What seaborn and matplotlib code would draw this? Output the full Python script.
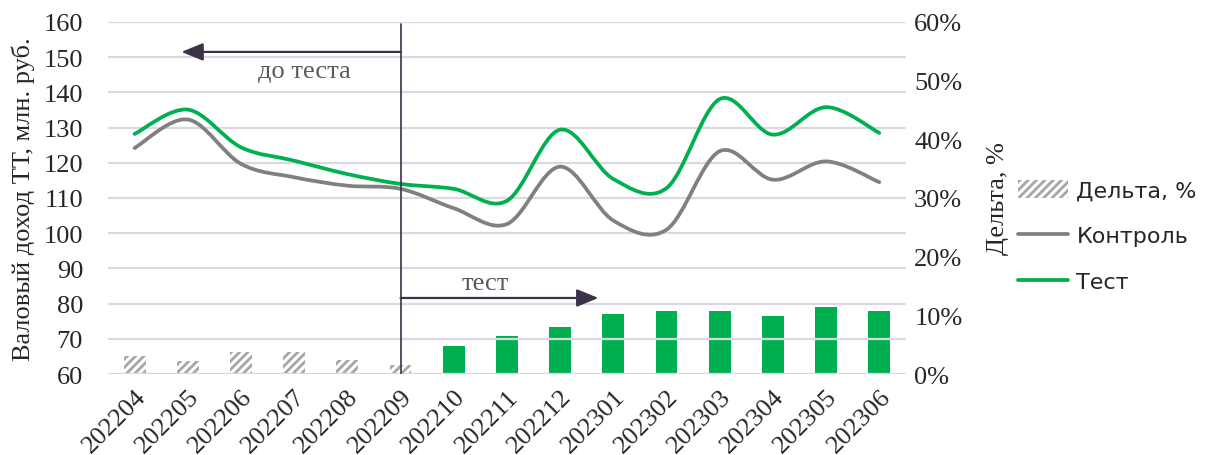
import numpy as np
import pandas as pd
import matplotlib
matplotlib.use("Agg")
import matplotlib.pyplot as plt
from matplotlib.path import Path
from matplotlib.patches import PathPatch, Patch
from matplotlib.lines import Line2D
from matplotlib.ticker import FuncFormatter
import seaborn as sns

# Monthly periods
periods = ["202204", "202205", "202206", "202207", "202208", "202209", "202210",
           "202211", "202212", "202301", "202302", "202303", "202304", "202305", "202306"]

# Gross income per store, mln rub
control = [124.2, 132.3, 119.7, 115.9, 113.5, 112.6, 107.1, 102.6, 118.9,
           103.6, 101.0, 123.3, 115.2, 120.4, 114.5]
test = [128.2, 135.1, 124.4, 120.6, 116.8, 114.0, 112.6, 109.2, 129.4,
        115.4, 112.8, 138.1, 128.0, 135.8, 128.5]

# Delta between groups, % (pre-test months are hatched)
delta = [3.1, 2.3, 3.7, 3.7, 2.4, 1.5, 4.8, 6.5, 8.0, 10.2, 10.7, 10.7, 9.9, 11.4, 10.7]
pre_test_months = 6

sns.set_theme(style="white")
plt.rcParams["hatch.linewidth"] = 2.0
serif = "Liberation Serif"
tick_color = "#262626"
green = "#00B050"
grey = "#808080"
dark = "#3A3246"

fig = plt.figure(figsize=(12.07, 4.56), dpi=100)
ax = fig.add_axes([0.0895, 0.1776, 0.661, 0.772])
ax2 = ax.twinx()

# Delta bars on the secondary axis
df = pd.DataFrame({"period": periods, "delta": delta})
sns.barplot(data=df, x="period", y="delta", ax=ax2, width=0.41,
            color=green, saturation=1, linewidth=0)
for i, bar in enumerate(ax2.patches):
    if i < pre_test_months:
        bar.set_facecolor("white")
        bar.set_edgecolor("#A6A6A6")
        bar.set_hatch("////")
        bar.set_linewidth(0)

ax2.set_ylim(0, 60)
ax2.yaxis.set_major_locator(plt.MultipleLocator(10))
ax2.yaxis.set_major_formatter(FuncFormatter(lambda v, p: f"{v:.0f}%"))
ax2.set_ylabel("Дельта, %", fontfamily=serif, fontsize=19, color=tick_color, labelpad=18)
ax2.tick_params(axis="y", labelsize=19, labelcolor=tick_color, length=0, pad=6)
for lbl in ax2.get_yticklabels():
    lbl.set_fontfamily(serif)
ax2.grid(False)

# Smoothed lines (Catmull-Rom converted to cubic Bezier segments)
def smooth_path(xs, ys):
    xs = np.asarray(xs, float)
    ys = np.asarray(ys, float)
    pts = np.column_stack([xs, ys])
    verts = [pts[0]]
    codes = [Path.MOVETO]
    n = len(pts)
    for i in range(n - 1):
        p0 = pts[max(i - 1, 0)]
        p1 = pts[i]
        p2 = pts[i + 1]
        p3 = pts[min(i + 2, n - 1)]
        c1 = p1 + (p2 - p0) / 6.0
        c2 = p2 - (p3 - p1) / 6.0
        verts += [c1, c2, p2]
        codes += [Path.CURVE4] * 3
    return Path(verts, codes)

xs = np.arange(len(periods))
ax.set_zorder(ax2.get_zorder() + 1)
ax.patch.set_visible(False)
for series, col in [(control, grey), (test, green)]:
    ax.add_patch(PathPatch(smooth_path(xs, series), facecolor="none", edgecolor=col,
                           linewidth=2.7, capstyle="round", joinstyle="round"))

ax.set_xlim(-0.5, len(periods) - 0.5)
ax.set_ylim(60, 160)
ax.yaxis.set_major_locator(plt.MultipleLocator(10))
ax.set_xticks(xs)
ax.set_xticklabels(periods, rotation=45, ha="right", rotation_mode="anchor",
                   fontfamily=serif, fontsize=19, color=tick_color)
ax.tick_params(axis="x", length=0, pad=8)
ax.tick_params(axis="y", labelsize=19, labelcolor=tick_color, length=0, pad=18)
for lbl in ax.get_yticklabels():
    lbl.set_fontfamily(serif)
ax.set_ylabel("Валовый доход ТТ, млн. руб.", fontfamily=serif, fontsize=19,
              color=tick_color, labelpad=6)
ax.grid(axis="y", color="#DCD7E4", linewidth=1.6)
ax.grid(axis="x", visible=False)
for a in (ax, ax2):
    for s in a.spines.values():
        s.set_visible(False)

# Test start marker and period arrows
split = pre_test_months - 1
ax.plot([split, split], [60, 159.5], color=dark, linewidth=1.2, zorder=5)
ax.annotate("", xy=(0.88, 151.5), xytext=(split, 151.5),
            arrowprops=dict(arrowstyle="-|>,head_length=1.1,head_width=0.45",
                            color=dark, linewidth=1.6, shrinkA=0, shrinkB=0))
ax.text(3.2, 146.2, "до теста", fontfamily=serif, fontsize=19, color="#595959",
        ha="center", va="center")
ax.annotate("", xy=(8.72, 81.6), xytext=(split, 81.6),
            arrowprops=dict(arrowstyle="-|>,head_length=1.1,head_width=0.45",
                            color=dark, linewidth=1.6, shrinkA=0, shrinkB=0))
ax.text(6.6, 85.9, "тест", fontfamily=serif, fontsize=19, color="#595959",
        ha="center", va="center")

# Legend
handles = [Patch(facecolor="white", edgecolor="#A6A6A6", hatch="////", linewidth=0),
           Line2D([0], [0], color=grey, linewidth=2.7),
           Line2D([0], [0], color=green, linewidth=2.7)]
fig.legend(handles, ["Дельта, %", "Контроль", "Тест"], loc="center left",
           bbox_to_anchor=(0.843, 0.48), frameon=False, fontsize=16,
           labelcolor=tick_color, handlelength=2.25, handleheight=0.85,
           handletextpad=0.4, labelspacing=1.12, borderaxespad=0, borderpad=0)

fig.savefig("out.png", dpi=100)
